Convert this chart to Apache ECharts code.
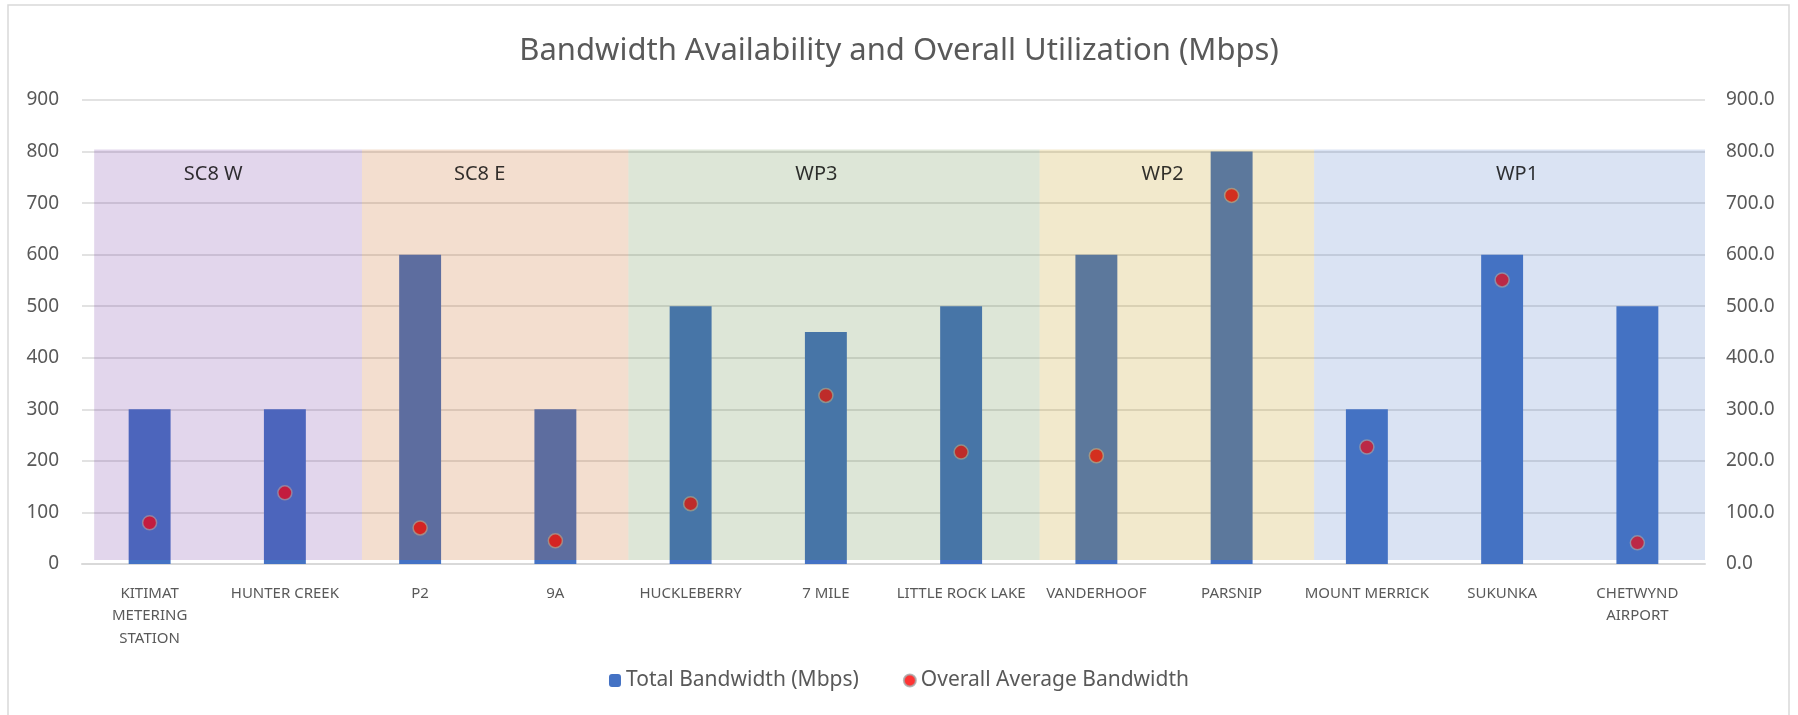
<!DOCTYPE html>
<html>
<head>
<meta charset="utf-8">
<script src="https://cdn.jsdelivr.net/npm/echarts@6/dist/echarts.min.js"></script>
<style>
  html, body { margin: 0; padding: 0; background: #fff; }
  #main { width: 1798px; height: 715px; }
</style>
</head>
<body>
<div id="main"></div>
<script>
// sites along the pipeline (left to right)
var sites = ['KITIMAT\nMETERING\nSTATION', 'HUNTER CREEK', 'P2', '9A', 'HUCKLEBERRY', '7 MILE',
    'LITTLE ROCK LAKE', 'VANDERHOOF', 'PARSNIP', 'MOUNT MERRICK', 'SUKUNKA', 'CHETWYND\nAIRPORT'];
var totalBandwidth = [300, 300, 600, 300, 500, 450, 500, 600, 800, 300, 600, 500];
var avgBandwidth = [80, 138, 70, 45, 117, 327, 217, 210, 715, 227, 551, 41];
var yTicks = [0, 100, 200, 300, 400, 500, 600, 700, 800, 900];

// section bands, in category units along the x axis
var bandNames = ['SC8 W', 'SC8 E', 'WP3', 'WP2', 'WP1'];
var bandStart = [0.09, 2.07, 4.04, 7.08, 9.11];
var bandEnd = [2.07, 4.04, 7.08, 9.11, 12];
var bandLabelAt = [0.97, 2.94, 5.43, 7.99, 10.61];
var bandColors = ['rgba(112,48,160,0.2)', 'rgba(197,90,17,0.2)', 'rgba(84,130,53,0.2)',
    'rgba(191,143,0,0.2)', 'rgba(68,114,196,0.2)'];

var FONT = 'Noto Sans';
var GREY = '#595959';

var chart = echarts.init(document.getElementById('main'));

function bandAreas() {
    var areas = [];
    for (var i = 0; i < bandNames.length; i++) {
        areas.push([
            {xAxis: bandStart[i], yAxis: 8, itemStyle: {color: bandColors[i]}},
            {xAxis: bandEnd[i], yAxis: 804}
        ]);
    }
    return areas;
}

function bandLabels() {
    var out = [];
    for (var i = 0; i < bandNames.length; i++) {
        out.push({name: bandNames[i], value: [bandLabelAt[i], 755]});
    }
    return out;
}

var yMin = yTicks[0], yMax = yTicks[yTicks.length - 1], yStep = yTicks[1] - yTicks[0];

var option = {
    backgroundColor: '#fff',
    animation: false,
    textStyle: {fontFamily: FONT},
    title: {
        text: 'Bandwidth Availability and Overall Utilization (Mbps)',
        left: 'center',
        top: 31,
        textStyle: {fontFamily: FONT, fontSize: 31, fontWeight: 'normal', color: GREY}
    },
    graphic: [{
        type: 'rect',
        shape: {x: 8, y: 5, width: 1781, height: 720},
        style: {fill: 'none', stroke: '#D9D9D9', lineWidth: 1.5},
        silent: true
    }],
    legend: {
        data: ['Total Bandwidth (Mbps)', 'Overall Average Bandwidth'],
        bottom: 19,
        left: 'center',
        itemGap: 44,
        itemWidth: 12,
        itemHeight: 13,
        textStyle: {fontFamily: FONT, fontSize: 21, color: GREY}
    },
    grid: {left: 82, right: 93, top: 100, bottom: 151, containLabel: false},
    xAxis: [{
        type: 'category',
        data: sites,
        axisTick: {show: false},
        axisLine: {lineStyle: {color: '#D9D9D9', width: 2}},
        axisLabel: {interval: 0, margin: 18, fontSize: 15, lineHeight: 22.5, color: GREY, fontFamily: FONT}
    }, {
        type: 'value',
        min: 0,
        max: sites.length,
        show: false
    }],
    yAxis: [{
        type: 'value',
        min: yMin, max: yMax, interval: yStep,
        axisLine: {show: false},
        axisTick: {show: false},
        axisLabel: {fontSize: 19, color: GREY, margin: 23, fontFamily: FONT},
        splitLine: {lineStyle: {color: '#D9D9D9', width: 1.5}}
    }, {
        type: 'value',
        min: yMin, max: yMax, interval: yStep,
        axisLine: {show: false},
        axisTick: {show: false},
        splitLine: {show: false},
        axisLabel: {
            fontSize: 19, color: GREY, margin: 21, fontFamily: FONT,
            formatter: function (v) { return v.toFixed(1); }
        }
    }],
    series: [{
        name: 'Total Bandwidth (Mbps)',
        type: 'bar',
        data: totalBandwidth,
        barWidth: '31%',
        itemStyle: {color: '#4472C4'},
        z: 2
    }, {
        name: 'Overall Average Bandwidth',
        type: 'scatter',
        yAxisIndex: 1,
        data: avgBandwidth,
        symbol: 'circle',
        symbolSize: 14,
        itemStyle: {color: '#FF0000', borderColor: '#A6A6A6', borderWidth: 1.5},
        z: 3
    }, {
        // section bands drawn over the bars and dots, with their names
        name: 'sections',
        type: 'scatter',
        xAxisIndex: 1,
        yAxisIndex: 0,
        data: bandLabels(),
        symbolSize: 1,
        itemStyle: {color: 'rgba(0,0,0,0)'},
        silent: true,
        z: 12,
        label: {
            show: true,
            position: 'inside',
            formatter: '{b}',
            fontFamily: FONT,
            fontSize: 20,
            color: '#000'
        },
        markArea: {
            silent: true,
            z: 10,
            data: bandAreas()
        }
    }]
};

chart.setOption(option);
</script>
</body>
</html>
